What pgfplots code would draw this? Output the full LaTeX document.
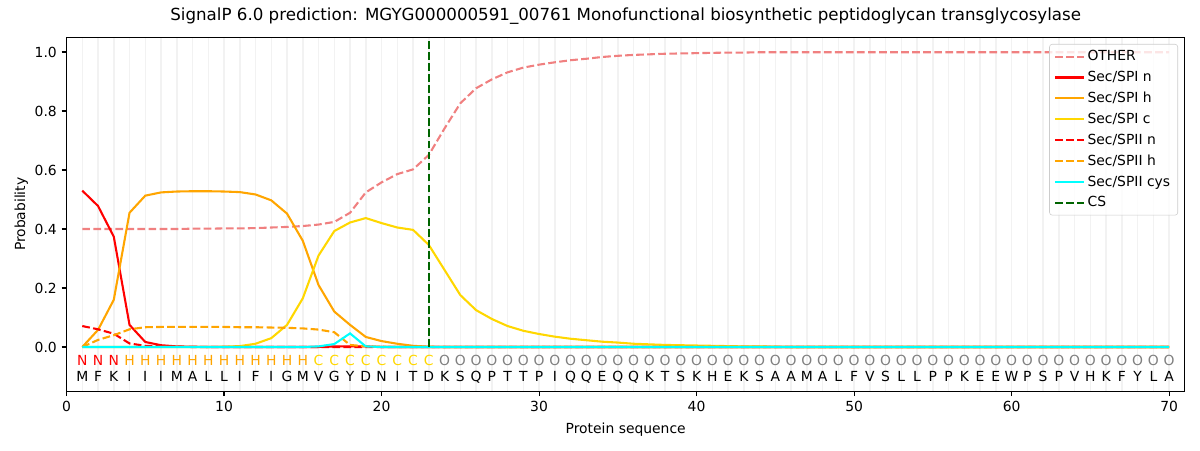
\documentclass[border=0pt]{standalone}
\usepackage{fontspec}
\setmainfont{DejaVu Sans}
\usepackage{pgfplots}
\usepackage{pgfplotstable}
\pgfplotsset{compat=1.18}
\definecolor{mplother}{HTML}{F08080}
\definecolor{mplred}{HTML}{FF0000}
\definecolor{mplorange}{HTML}{FFA500}
\definecolor{mplgold}{HTML}{FFD700}
\definecolor{mplcyan}{HTML}{00FFFF}
\definecolor{mplgreen}{HTML}{006400}
\definecolor{mplgray}{HTML}{808080}

\pgfplotstableread{
x other spin spih spic spiin spiih cys
1 0.400 0.530 0.000 0.000 0.071 0.000 0.000
2 0.400 0.478 0.058 0.000 0.060 0.024 0.000
3 0.400 0.374 0.160 0.000 0.045 0.040 0.000
4 0.400 0.075 0.455 0.000 0.012 0.060 0.000
5 0.400 0.017 0.513 0.000 0.004 0.067 0.000
6 0.400 0.006 0.524 0.000 0.002 0.068 0.000
7 0.400 0.002 0.527 0.000 0.001 0.068 0.000
8 0.401 0.001 0.528 0.000 0.000 0.068 0.000
9 0.401 0.000 0.528 0.000 0.000 0.068 0.000
10 0.402 0.000 0.527 0.001 0.000 0.068 0.000
11 0.402 0.000 0.525 0.003 0.000 0.067 0.000
12 0.403 0.000 0.517 0.011 0.000 0.067 0.000
13 0.405 0.000 0.497 0.030 0.000 0.066 0.000
14 0.407 0.000 0.452 0.075 0.000 0.065 0.000
15 0.410 0.000 0.360 0.165 0.000 0.063 0.000
16 0.415 0.000 0.210 0.310 0.000 0.059 0.002
17 0.424 0.002 0.120 0.393 0.000 0.050 0.010
18 0.455 0.002 0.075 0.422 0.000 0.007 0.046
19 0.524 0.002 0.034 0.437 0.000 0.002 0.002
20 0.558 0.000 0.020 0.420 0.000 0.001 0.000
21 0.586 0.000 0.011 0.405 0.000 0.000 0.000
22 0.602 0.000 0.004 0.397 0.000 0.000 0.000
23 0.651 0.000 0.001 0.346 0.000 0.000 0.000
24 0.741 0.000 0.000 0.261 0.000 0.000 0.000
25 0.826 0.000 0.000 0.176 0.000 0.000 0.000
26 0.877 0.000 0.000 0.125 0.000 0.000 0.000
27 0.907 0.000 0.000 0.095 0.000 0.000 0.000
28 0.931 0.000 0.000 0.071 0.000 0.000 0.000
29 0.947 0.000 0.000 0.055 0.000 0.000 0.000
30 0.957 0.000 0.000 0.044 0.000 0.000 0.000
31 0.965 0.000 0.000 0.035 0.000 0.000 0.000
32 0.972 0.000 0.000 0.028 0.000 0.000 0.000
33 0.977 0.000 0.000 0.023 0.000 0.000 0.000
34 0.983 0.000 0.000 0.018 0.000 0.000 0.000
35 0.987 0.000 0.000 0.015 0.000 0.000 0.000
36 0.990 0.000 0.000 0.011 0.000 0.000 0.000
37 0.992 0.000 0.000 0.009 0.000 0.000 0.000
38 0.994 0.000 0.000 0.007 0.000 0.000 0.000
39 0.995 0.000 0.000 0.006 0.000 0.000 0.000
40 0.996 0.000 0.000 0.005 0.000 0.000 0.000
41 0.997 0.000 0.000 0.004 0.000 0.000 0.000
42 0.998 0.000 0.000 0.003 0.000 0.000 0.000
43 0.998 0.000 0.000 0.002 0.000 0.000 0.000
44 0.999 0.000 0.000 0.002 0.000 0.000 0.000
45 0.999 0.000 0.000 0.001 0.000 0.000 0.000
46 0.999 0.000 0.000 0.000 0.000 0.000 0.000
47 0.999 0.000 0.000 0.000 0.000 0.000 0.000
48 0.999 0.000 0.000 0.000 0.000 0.000 0.000
49 0.999 0.000 0.000 0.000 0.000 0.000 0.000
50 0.999 0.000 0.000 0.000 0.000 0.000 0.000
51 0.999 0.000 0.000 0.000 0.000 0.000 0.000
52 0.999 0.000 0.000 0.000 0.000 0.000 0.000
53 0.999 0.000 0.000 0.000 0.000 0.000 0.000
54 0.999 0.000 0.000 0.000 0.000 0.000 0.000
55 0.999 0.000 0.000 0.000 0.000 0.000 0.000
56 0.999 0.000 0.000 0.000 0.000 0.000 0.000
57 0.999 0.000 0.000 0.000 0.000 0.000 0.000
58 0.999 0.000 0.000 0.000 0.000 0.000 0.000
59 0.999 0.000 0.000 0.000 0.000 0.000 0.000
60 0.999 0.000 0.000 0.000 0.000 0.000 0.000
61 0.999 0.000 0.000 0.000 0.000 0.000 0.000
62 0.999 0.000 0.000 0.000 0.000 0.000 0.000
63 0.999 0.000 0.000 0.000 0.000 0.000 0.000
64 0.999 0.000 0.000 0.000 0.000 0.000 0.000
65 0.999 0.000 0.000 0.000 0.000 0.000 0.000
66 0.999 0.000 0.000 0.000 0.000 0.000 0.000
67 0.999 0.000 0.000 0.000 0.000 0.000 0.000
68 0.999 0.000 0.000 0.000 0.000 0.000 0.000
69 0.999 0.000 0.000 0.000 0.000 0.000 0.000
70 0.999 0.000 0.000 0.000 0.000 0.000 0.000
}\probs

\pgfplotstableread{
x y l
1 -0.118 M
2 -0.118 F
3 -0.118 K
4 -0.118 I
5 -0.118 I
6 -0.118 I
7 -0.118 M
8 -0.118 A
9 -0.118 L
10 -0.118 L
11 -0.118 I
12 -0.118 F
13 -0.118 I
14 -0.118 G
15 -0.118 M
16 -0.118 V
17 -0.118 G
18 -0.118 Y
19 -0.118 D
20 -0.118 N
21 -0.118 I
22 -0.118 T
23 -0.118 D
24 -0.118 K
25 -0.118 S
26 -0.118 Q
27 -0.118 P
28 -0.118 T
29 -0.118 T
30 -0.118 P
31 -0.118 I
32 -0.118 Q
33 -0.118 Q
34 -0.118 E
35 -0.118 Q
36 -0.118 Q
37 -0.118 K
38 -0.118 T
39 -0.118 S
40 -0.118 K
41 -0.118 H
42 -0.118 E
43 -0.118 K
44 -0.118 S
45 -0.118 A
46 -0.118 A
47 -0.118 M
48 -0.118 A
49 -0.118 L
50 -0.118 F
51 -0.118 V
52 -0.118 S
53 -0.118 L
54 -0.118 L
55 -0.118 P
56 -0.118 P
57 -0.118 K
58 -0.118 E
59 -0.118 E
60 -0.118 W
61 -0.118 P
62 -0.118 S
63 -0.118 P
64 -0.118 V
65 -0.118 H
66 -0.118 K
67 -0.118 F
68 -0.118 Y
69 -0.118 L
70 -0.118 A
}\seq

\pgfplotstableread{
x y l
1 -0.064 N
2 -0.064 N
3 -0.064 N
}\labN
\pgfplotstableread{
x y l
4 -0.064 H
5 -0.064 H
6 -0.064 H
7 -0.064 H
8 -0.064 H
9 -0.064 H
10 -0.064 H
11 -0.064 H
12 -0.064 H
13 -0.064 H
14 -0.064 H
15 -0.064 H
}\labH
\pgfplotstableread{
x y l
16 -0.064 C
17 -0.064 C
18 -0.064 C
19 -0.064 C
20 -0.064 C
21 -0.064 C
22 -0.064 C
23 -0.064 C
}\labC
\pgfplotstableread{
x y l
24 -0.064 O
25 -0.064 O
26 -0.064 O
27 -0.064 O
28 -0.064 O
29 -0.064 O
30 -0.064 O
31 -0.064 O
32 -0.064 O
33 -0.064 O
34 -0.064 O
35 -0.064 O
36 -0.064 O
37 -0.064 O
38 -0.064 O
39 -0.064 O
40 -0.064 O
41 -0.064 O
42 -0.064 O
43 -0.064 O
44 -0.064 O
45 -0.064 O
46 -0.064 O
47 -0.064 O
48 -0.064 O
49 -0.064 O
50 -0.064 O
51 -0.064 O
52 -0.064 O
53 -0.064 O
54 -0.064 O
55 -0.064 O
56 -0.064 O
57 -0.064 O
58 -0.064 O
59 -0.064 O
60 -0.064 O
61 -0.064 O
62 -0.064 O
63 -0.064 O
64 -0.064 O
65 -0.064 O
66 -0.064 O
67 -0.064 O
68 -0.064 O
69 -0.064 O
70 -0.064 O
}\labO

\begin{document}
\begin{tikzpicture}
\useasboundingbox (-47.9pt,-42.3pt) rectangle (816.1pt,281.7pt);
\begin{axis}[
  scale only axis,
  width=805.2pt, height=254.9pt,
  xmin=0, xmax=71, ymin=-0.15, ymax=1.05,
  axis line style={line width=0.8pt},
  xtick={0,10,...,70},
  ytick={0,0.2,0.4,0.6,0.8,1.0},
  minor xtick={1,...,70},
  xminorgrids=true,
  minor grid style={draw=black!5, line width=1.1pt},
  minor tick length=0pt,
  tick align=outside,
  major tick length=3.5pt,
  tick style={line width=0.8pt, black},
  xtick pos=bottom, ytick pos=left,
  /pgf/number format/assume math mode=true,
  yticklabel style={/pgf/number format/fixed, /pgf/number format/precision=1, /pgf/number format/fixed zerofill},
  ticklabel style={font=\fontsize{10}{12}\selectfont},
  title={SignalP 6.0 prediction: MGYG000000591\_00761 Monofunctional biosynthetic peptidoglycan transglycosylase},
  title style={at={(0.5,1)}, anchor=base, yshift=6.2pt, inner sep=0pt, font=\fontsize{12}{14}\selectfont},
  xlabel={Protein sequence},
  ylabel={Probability},
  label style={font=\fontsize{10}{12}\selectfont},
  xlabel style={yshift=-1pt},
  ylabel style={yshift=-2pt},
  legend cell align=left,
  legend style={at={(0.9939,0.981)}, anchor=north east, draw=black!20, fill=white, fill opacity=0.8, text opacity=1, rounded corners=2pt, font=\fontsize{10}{12}\selectfont, row sep=2.05pt, inner xsep=3.5pt, inner ysep=2.5pt},
  legend image code/.code={\draw[#1] (0pt,0pt) -- (20.4pt,0pt);},
  every axis plot/.append style={line width=1.5pt},
]
\addplot[mplother, dash pattern=on 5.55pt off 2.4pt] table[x=x, y=other] {\probs};
\addlegendentry{OTHER}
\addplot[mplred] table[x=x, y=spin] {\probs};
\addlegendentry{Sec/SPI n}
\addplot[mplorange] table[x=x, y=spih] {\probs};
\addlegendentry{Sec/SPI h}
\addplot[mplgold] table[x=x, y=spic] {\probs};
\addlegendentry{Sec/SPI c}
\addplot[mplred, dash pattern=on 5.55pt off 2.4pt] table[x=x, y=spiin] {\probs};
\addlegendentry{Sec/SPII n}
\addplot[mplorange, dash pattern=on 5.55pt off 2.4pt] table[x=x, y=spiih] {\probs};
\addlegendentry{Sec/SPII h}
\addplot[mplcyan] table[x=x, y=cys] {\probs};
\addlegendentry{Sec/SPII cys}
\addplot[mplgreen, dash pattern=on 5.55pt off 2.4pt] coordinates {(23,0) (23,1.04)};
\addlegendentry{CS}

\addplot[draw=none, mark=none, nodes near coords, point meta=explicit symbolic,
  nodes near coords style={anchor=base, inner sep=0pt, text=black, font=\fontsize{10}{12}\selectfont}]
  table[x=x, y=y, meta=l] {\seq};
\addplot[draw=none, mark=none, nodes near coords, point meta=explicit symbolic,
  nodes near coords style={anchor=base, inner sep=0pt, text=mplred, font=\fontsize{10}{12}\selectfont}]
  table[x=x, y=y, meta=l] {\labN};
\addplot[draw=none, mark=none, nodes near coords, point meta=explicit symbolic,
  nodes near coords style={anchor=base, inner sep=0pt, text=mplorange, font=\fontsize{10}{12}\selectfont}]
  table[x=x, y=y, meta=l] {\labH};
\addplot[draw=none, mark=none, nodes near coords, point meta=explicit symbolic,
  nodes near coords style={anchor=base, inner sep=0pt, text=mplgold, font=\fontsize{10}{12}\selectfont}]
  table[x=x, y=y, meta=l] {\labC};
\addplot[draw=none, mark=none, nodes near coords, point meta=explicit symbolic,
  nodes near coords style={anchor=base, inner sep=0pt, text=mplgray, font=\fontsize{10}{12}\selectfont}]
  table[x=x, y=y, meta=l] {\labO};
\end{axis}
\end{tikzpicture}
\end{document}
